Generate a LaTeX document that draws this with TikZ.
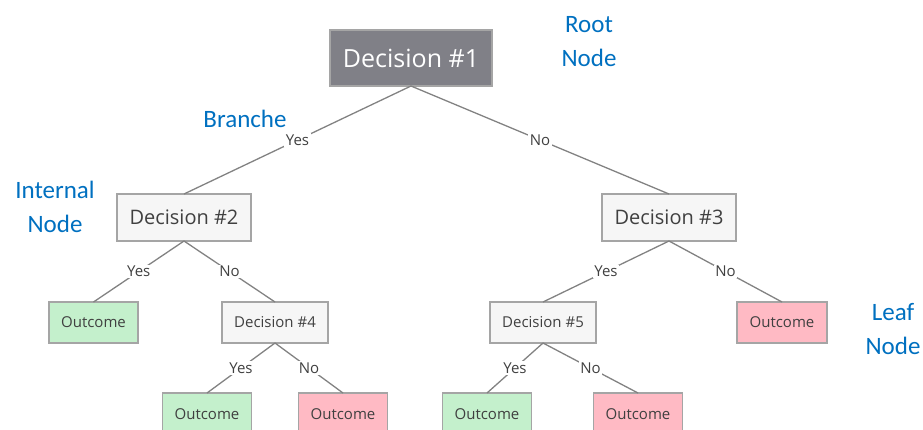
\documentclass[tikz,border=0pt]{standalone}
\usepackage{fontspec}
\setmainfont{Open Sans}
\newfontfamily\notefont{Carlito}

\definecolor{rootgray}{RGB}{128,128,135}
\definecolor{boxline}{RGB}{165,165,165}
\definecolor{boxfill}{RGB}{246,246,246}
\definecolor{yesgreen}{RGB}{196,240,204}
\definecolor{nored}{RGB}{255,186,196}
\definecolor{edgegray}{RGB}{130,130,130}
\definecolor{txtgray}{RGB}{64,64,64}
\definecolor{noteblue}{RGB}{0,112,192}

\begin{document}
\begin{tikzpicture}[x=1pt,y=-1pt,
    box/.style={draw=boxline,line width=1.2pt,fill=boxfill,text=txtgray,
        outer sep=0pt,inner sep=0pt,font=\fontsize{15}{18}\selectfont},
    rootbox/.style={box,fill=rootgray,text=white,minimum width=162,minimum height=56,
        font=\fontsize{25}{30}\selectfont},
    bigbox/.style={box,minimum width=134,minimum height=47,font=\fontsize{20}{24}\selectfont},
    smallbox/.style={box,minimum width=106,minimum height=41},
    good/.style={box,fill=yesgreen,minimum width=89,minimum height=41},
    bad/.style={box,fill=nored,minimum width=89,minimum height=41},
    edge/.style={draw=edgegray,line width=1.3pt},
    choice/.style={fill=white,inner sep=1.5pt,text=txtgray,font=\fontsize{15}{18}\selectfont},
    note/.style={text=noteblue,align=center,font=\notefont\fontsize{25}{34}\selectfont}]

    \clip (0,0) rectangle (923,429);

    % Define nodes
    \node[rootbox] (d1) at (411,58) {Decision \#1};
    \node[bigbox] (d2) at (184,217.5) {Decision \#2};
    \node[bigbox] (d3) at (669,217.5) {Decision \#3};
    \node[good] (o1) at (93.5,322.5) {Outcome};
    \node[smallbox] (d4) at (275,322.5) {Decision \#4};
    \node[smallbox] (d5) at (543,322.5) {Decision \#5};
    \node[bad,minimum width=90] (o2) at (782,322.5) {Outcome};
    \node[good,minimum height=42] (o3) at (207,414) {Outcome};
    \node[bad,minimum height=42] (o4) at (343,414) {Outcome};
    \node[good,minimum height=42] (o5) at (487,414) {Outcome};
    \node[bad,minimum height=42] (o6) at (638,414) {Outcome};

    % Labels
    \node[note] (rootnote) at (589,41.5) {Root\\Node};
    \node[note,anchor=base] (branchnote) at (245,127) {Branche};
    \node[note] (internalnote) at (55,206.5) {Internal\\Node};
    \node[note] (leafnote) at (893,329) {Leaf\\Node};

    % Draw edges
    \draw[edge] (d1.south) -- node[choice] {Yes} (d2.north);
    \draw[edge] (d1.south) -- node[choice] {No} (d3.north);
    \draw[edge] (d2.south) -- node[choice] {Yes} (o1.north);
    \draw[edge] (d2.south) -- node[choice] {No} (d4.north);
    \draw[edge] (d3.south) -- node[choice] {Yes} (d5.north);
    \draw[edge] (d3.south) -- node[choice] {No} (o2.north);
    \draw[edge] (d4.south) -- node[choice] {Yes} (o3.north);
    \draw[edge] (d4.south) -- node[choice] {No} (o4.north);
    \draw[edge] (d5.south) -- node[choice] {Yes} (o5.north);
    \draw[edge] (d5.south) -- node[choice] {No} (o6.north);

\end{tikzpicture}
\end{document}
